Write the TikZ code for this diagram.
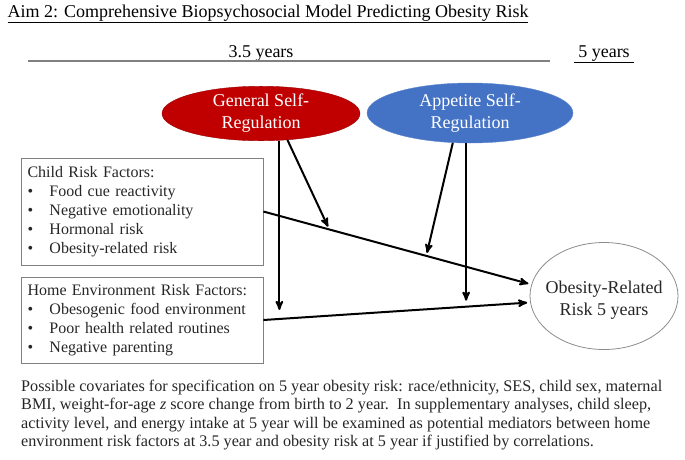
\documentclass[tikz,border=0pt]{standalone}
\usepackage{fontspec}
\setmainfont{Liberation Serif}
\usetikzlibrary{shapes.geometric, positioning, arrows}
\definecolor{regred}{HTML}{C00000}
\definecolor{appblue}{HTML}{4472C4}
\tikzset{
>=stealth', % makes the arrow heads bold
path/.style={->, line width=2pt}, % every connector
regnode/.style={ellipse, inner sep=0pt, text=white, align=center, font=\fontsize{18}{22}\selectfont},
riskbox/.style={draw=black!50, thick, minimum width=242pt, text width=229pt, inner xsep=6.5pt, align=left, text=black!85, font=\fontsize{16}{19}\selectfont},
}
\newcommand{\itm}[1]{\makebox[22pt][l]{\textbullet}#1}
\newcommand{\fitline}[2]{\makebox[#1][s]{#2}}

\begin{document}
\begin{tikzpicture}[x=1pt, y=-1pt]
        \useasboundingbox (0,0) rectangle (685,459);

        \node[anchor=base west, font=\fontsize{18}{22}\selectfont] (title) at (4,17)
          {\underline{Aim 2: Comprehensive Biopsychosocial Model Predicting Obesity Risk}};
        \node[anchor=base, font=\fontsize{18}{22}\selectfont] (yr35) at (261,57) {3.5 years};
        \node[anchor=base, font=\fontsize{18}{22}\selectfont] (yr5) at (604,57) {\underline{\ 5 years\ }};
        \coordinate (t0) at (28,61);
        \coordinate (t1) at (550,61);
        \draw[black!50, line width=1.2pt] (t0) -- (t1);

        \node[regnode, fill=regred, draw=regred!80!black, minimum width=198pt, minimum height=53pt] (gen) at (261,113.5) {General Self-\\Regulation};
        \node[regnode, fill=appblue, draw=appblue!85!white, minimum width=206pt, minimum height=60pt] (app) at (470,113) {Appetite Self-\\Regulation};

        \node[riskbox, minimum height=107pt] (child) at (142,211.5) {Child Risk Factors:\\
          \itm{Food cue reactivity}\\
          \itm{Negative emotionality}\\
          \itm{Hormonal risk}\\
          \itm{Obesity-related risk}};
        \node[riskbox, minimum height=86pt] (home) at (142,320) {Home Environment Risk Factors:\\
          \itm{Obesogenic food environment}\\
          \itm{Poor health related routines}\\
          \itm{Negative parenting}};

        \node[ellipse, draw=black!45, thick, inner sep=0pt, minimum width=148pt, minimum height=107pt,
          label={[align=center, yshift=-4pt, text=black!85, font=\fontsize{18}{22}\selectfont]center:Obesity-Related\\Risk 5 years}] (risk) at (604,296) {};

        % main paths
        \draw[path, shorten >=3pt] (child.east) -- (risk.171) coordinate[pos=.246] (c1) coordinate[pos=.608] (c2);
        \draw[path, shorten >=3pt] (home.east) -- (risk.185) coordinate[pos=.06] (h1) coordinate[pos=.76] (h2);

        % moderators
        \draw[path, shorten >=3pt] (gen.-45) -- (c1);
        \draw[path, shorten >=3pt] (app.-120) -- (c2);
        \draw[path, shorten >=9pt] (gen.south -| h1) -- (h1);
        \draw[path, shorten >=6pt] (app.south -| h2) -- (h2);

        \node[anchor=north west, inner sep=0pt, align=left, text=black!85, font=\fontsize{16.2}{18.5}\selectfont] (notes) at (21,379.5)
          {\fitline{641pt}{Possible covariates for specification on 5 year obesity risk: race/ethnicity, SES, child sex, maternal}\\
           \fitline{630pt}{BMI, weight-for-age \textit{z} score change from birth to 2 year.\ \ In supplementary analyses, child sleep,}\\
           \fitline{629pt}{activity level, and energy intake at 5 year will be examined as potential mediators between home}\\
           environment risk factors at 3.5 year and obesity risk at 5 year if justified by correlations.};
\end{tikzpicture}
\end{document}
